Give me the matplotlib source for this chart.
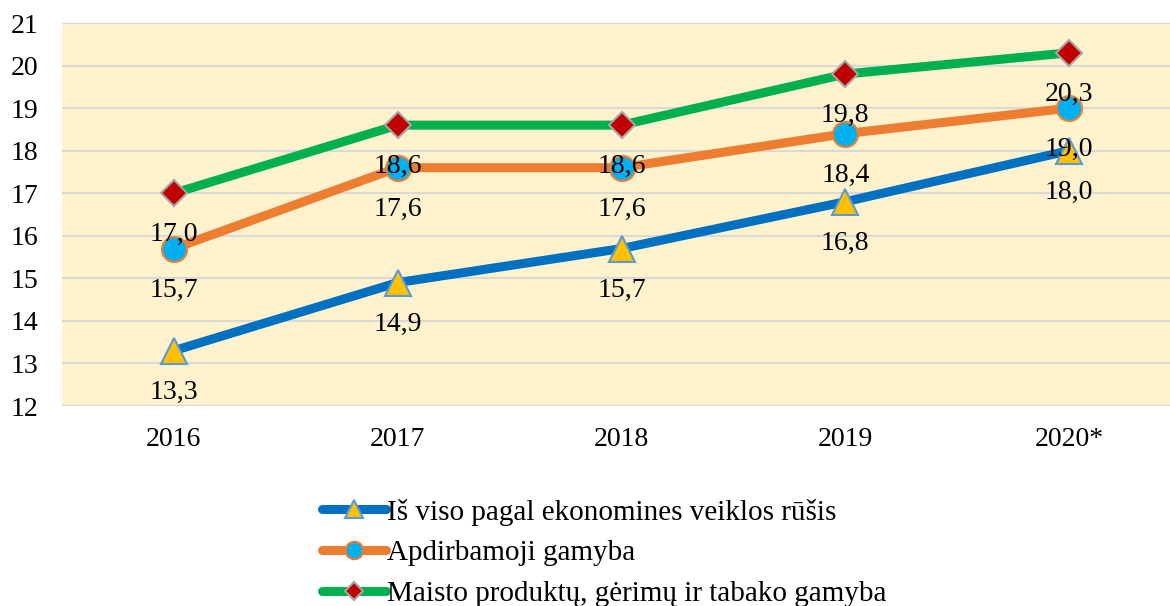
import matplotlib

matplotlib.use("Agg")

import matplotlib.pyplot as plt  # noqa: E402

plt.rcParams["font.family"] = ["Liberation Serif", "DejaVu Serif"]

years = ["2016", "2017", "2018", "2019", "2020*"]
total = [13.3, 14.9, 15.7, 16.8, 18.0]
manufacturing = [15.7, 17.6, 17.6, 18.4, 19.0]
food = [17.0, 18.6, 18.6, 19.8, 20.3]
labels = [
    "Iš viso pagal ekonomines veiklos rūšis",
    "Apdirbamoji gamyba",
    "Maisto produktų, gėrimų ir tabako gamyba",
]

W, H = 1170, 606
fig = plt.figure(figsize=(W / 100, H / 100), dpi=100)
ax = fig.add_axes([62 / W, 1 - 406 / H, (1181 - 62) / W, (406 - 23) / H])
ax.set_facecolor("#FFF2CC")

styles = [
    (total, "#0070C0", "^", "#FFC000", "#5B9BD5", 19),
    (manufacturing, "#ED7D31", "o", "#00B0F0", "#ED7D31", 18),
    (food, "#00B050", "D", "#C00000", "#A5A5A5", 13),
]
x = list(range(len(years)))
for (vals, color, marker, fill, edge, ms), lab in zip(styles, labels):
    ax.plot(x, vals, color=color, lw=6.5, marker=marker, ms=ms,
            mfc=fill, mec=edge, mew=1.5, label=lab, solid_capstyle="round",
            zorder=3)
    for xi, v in zip(x, vals):
        ax.annotate(f"{v:.1f}".replace(".", ","), (xi, v),
                    textcoords="offset points", xytext=(0, -30),
                    ha="center", va="center", fontsize=20, color="black",
                    zorder=5)

ax.set_xlim(-0.5, 4.5)
ax.set_ylim(12, 21)
ax.set_yticks(range(12, 22))
ax.set_xticks(x)
ax.set_xticklabels(years)
ax.grid(axis="y", color="#D9D9D9", lw=1.5)
ax.set_axisbelow(True)
for s in ax.spines.values():
    s.set_visible(False)
ax.tick_params(length=0, labelsize=20, colors="black")
ax.tick_params(axis="y", pad=17)
ax.tick_params(axis="x", pad=15)

leg = fig.legend(loc="upper left", bbox_to_anchor=(307 / W, 1 - 484 / H),
                 frameon=False, fontsize=21, handlelength=2.2,
                 handletextpad=0.05, labelspacing=0.49, borderpad=0)
for h in leg.legend_handles:
    h.set_markersize(h.get_markersize() * 0.7)

fig.savefig("out.png", dpi=100, facecolor="white")
